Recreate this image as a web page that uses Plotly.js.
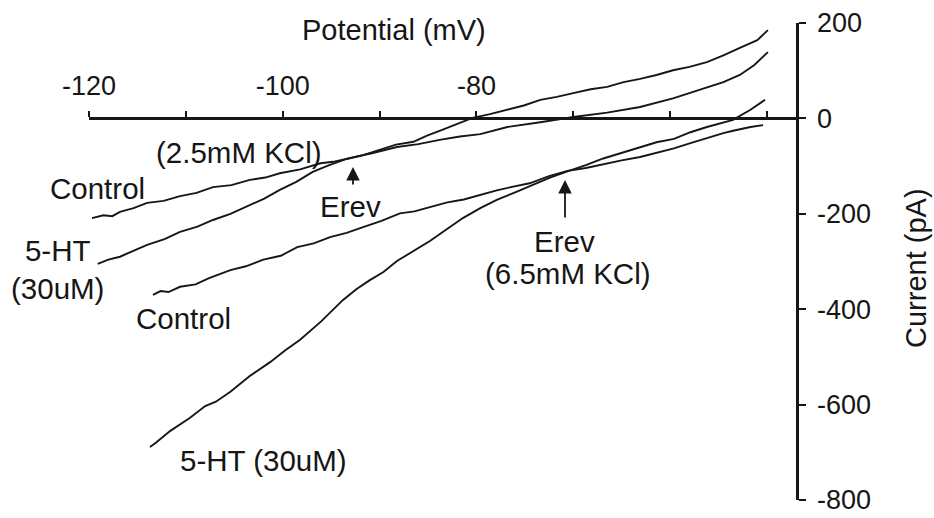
<!DOCTYPE html>
<html><head><meta charset="utf-8">
<script src="https://cdn.plot.ly/plotly-3.0.1.min.js"></script>
<style>html,body{margin:0;padding:0;background:#fff}#chart{width:934px;height:518px}</style>
</head><body><div id="chart"></div>
<script>
// Control, 2.5 mM KCl
const ctrl25_mV = [-119.7,-118.5,-117.6,-116.8,-115.4,-114.0,-112.3,-110.6,-108.9,-107.2,-105.3,-103.4,-101.8,-100.3,-98.2,-96.1,-94.8,-93.4,-90.8,-88.2,-86.0,-83.8,-81.7,-79.6,-76.8,-73.4,-70.0,-66.5,-63.1,-59.7,-56.2,-54.5,-52.8,-51.3,-49.9];
const ctrl25_pA = [-209,-203,-205,-196,-188,-177,-173,-163,-156,-144,-140,-129,-124,-115,-107,-94,-91,-85,-73,-60,-54,-45,-38,-33,-18,-8,3,12,24,42,64,76,91,112,139];
// 5-HT 30uM, 2.5 mM KCl
const ht25_mV = [-119.1,-118.0,-116.8,-115.3,-114.0,-112.2,-110.6,-108.8,-107.2,-105.4,-103.4,-101.9,-100.3,-98.6,-96.9,-95.2,-93.4,-91.7,-90.0,-88.3,-86.5,-85.1,-83.8,-82.1,-80.4,-78.6,-76.8,-75.1,-73.4,-71.7,-70.0,-68.2,-66.5,-64.8,-63.1,-61.4,-59.7,-58.0,-56.2,-54.5,-52.8,-51.0,-49.9];
const ht25_pA = [-305,-296,-290,-276,-265,-253,-238,-227,-213,-200,-182,-168,-150,-133,-112,-98,-85,-77,-66,-55,-49,-36,-26,-13,1,9,18,27,39,45,53,61,66,76,83,91,101,108,118,132,148,164,185];
// Control, 6.5 mM KCl
const ctrl65_mV = [-113.4,-112.6,-111.8,-110.6,-109.0,-107.6,-105.4,-103.8,-102.0,-100.2,-98.5,-96.8,-95.1,-93.4,-91.7,-89.8,-87.9,-86.4,-84.8,-83.0,-81.3,-79.6,-77.9,-76.2,-74.5,-72.5,-70.6,-68.7,-66.9,-65.0,-63.1,-61.4,-59.6,-57.9,-56.2,-54.5,-53.5,-51.7,-50.4];
const ctrl65_pA = [-370,-362,-364,-353,-348,-335,-318,-310,-296,-288,-270,-262,-249,-240,-228,-215,-199,-195,-186,-176,-170,-160,-151,-143,-136,-121,-110,-104,-96,-88,-81,-72,-63,-52,-41,-31,-26,-18,-14];
// 5-HT 30uM, 6.5 mM KCl
const ht65_mV = [-113.7,-113.1,-111.6,-109.6,-108.0,-106.9,-105.4,-103.4,-101.3,-99.8,-98.2,-96.0,-93.8,-92.4,-91.0,-89.6,-88.2,-86.5,-84.8,-83.1,-81.4,-79.6,-77.9,-76.0,-74.2,-72.4,-70.6,-68.7,-66.9,-65.0,-63.1,-61.4,-59.6,-57.9,-56.2,-54.8,-53.5,-51.7,-50.2];
const ht65_pA = [-689,-680,-655,-628,-603,-594,-573,-540,-511,-487,-464,-425,-381,-358,-339,-322,-299,-278,-257,-233,-209,-188,-171,-155,-140,-124,-111,-98,-84,-72,-60,-50,-43,-29,-18,-10,-3,18,39];

const xTickVals = [-120,-110,-100,-90,-80,-70,-60,-50];
const xTickText = ['-120','','-100','','-80','','',''];
const yTickVals = [200,0,-200,-400,-600,-800];
const yTickText = ['200','0','-200','-400','-600','-800'];

const INK = '#161616';
const FONT = 'Liberation Sans, Arial, Helvetica, sans-serif';

function tr(x, y) {
  return {x: x, y: y, type: 'scatter', mode: 'lines', line: {color: INK, width: 1.9}, hoverinfo: 'skip', showlegend: false};
}
const data = [tr(ctrl25_mV, ctrl25_pA), tr(ht25_mV, ht25_pA), tr(ctrl65_mV, ctrl65_pA), tr(ht65_mV, ht65_pA)];

// pixel -> paper helpers for annotation placement (plot area 89..796 x 23..500)
const pxX = p => (p - 89) / 707;
const pxY = p => (500 - p) / 477;

function lab(text, px, py, extra) {
  return Object.assign({text: text, x: pxX(px), y: pxY(py), xref: 'paper', yref: 'paper', showarrow: false,
    xanchor: 'center', yanchor: 'middle', font: {family: FONT, size: 29.5, color: INK}}, extra || {});
}
function arrow(px, py, len) {
  return {text: '', x: pxX(px), y: pxY(py), xref: 'paper', yref: 'paper', showarrow: true, ax: 0, ay: len,
    arrowhead: 2, arrowsize: 1.5, arrowwidth: 1.8, arrowcolor: INK, standoff: 0};
}

const annotations = [
  lab('Potential (mV)', 394, 30, {font: {family: FONT, size: 29, color: INK}}),
  lab('Current (pA)', 916, 268, {textangle: -90, font: {family: FONT, size: 29, color: INK}}),
  lab('(2.5mM KCl)', 239, 152),
  lab('Control', 97, 189),
  lab('5-HT<br>(30uM)', 57, 269, {font: {family: FONT, size: 29.5, color: INK}}),
  lab('Control', 183, 318),
  lab('5-HT (30uM)', 263, 460),
  lab('Erev', 350, 206),
  lab('Erev', 564, 241),
  lab('(6.5mM KCl)', 568, 273),
  arrow(353, 167, 19),
  arrow(565, 180, 39)
];

const layout = {
  width: 934, height: 518,
  margin: {l: 89, r: 138, t: 23, b: 18},
  paper_bgcolor: '#fff', plot_bgcolor: '#fff',
  showlegend: false,
  xaxis: {
    range: [-120, -47], anchor: 'free', position: 0.8, side: 'top',
    tickvals: xTickVals, ticktext: xTickText, ticks: 'outside', ticklen: 6, tickwidth: 2, tickcolor: INK,
    showline: true, linecolor: INK, linewidth: 2.2, showgrid: false, zeroline: false,
    tickfont: {family: FONT, size: 27, color: INK}, ticklabelstandoff: 6
  },
  yaxis: {
    range: [-800, 200], side: 'right', anchor: 'x',
    tickvals: yTickVals, ticktext: yTickText, ticks: 'outside', ticklen: 7, tickwidth: 2, tickcolor: INK,
    showline: true, linecolor: INK, linewidth: 2.6, showgrid: false, zeroline: false,
    tickfont: {family: FONT, size: 27, color: INK}, ticklabelstandoff: 6
  },
  annotations: annotations
};

Plotly.newPlot('chart', data, layout, {staticPlot: true, displayModeBar: false});
</script>
</body></html>
